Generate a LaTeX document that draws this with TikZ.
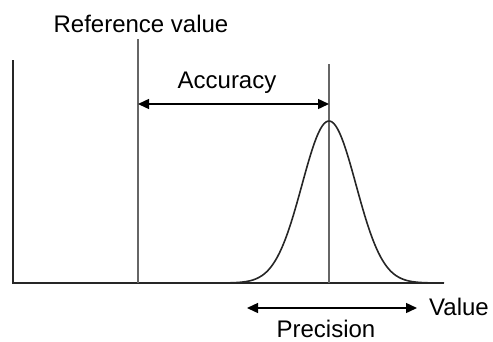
\documentclass[tikz,border=0pt]{standalone}
\usepackage{fontspec}
\setmainfont{Liberation Sans}
\usetikzlibrary{positioning, arrows.meta, calc}
\tikzset{
  every node/.style={font=\fontsize{24}{28}\selectfont, inner sep=0pt},
  lbl/.style={anchor=base},
  axisline/.style={line width=2.6pt, black!85},
  mark line/.style={line width=1.3pt, black!60},
  arr/.style={{Triangle[length=11pt,width=10pt]}-{Triangle[length=11pt,width=10pt]}, line width=1.4pt},
  curve/.style={line width=1.6pt, black!85},
}

\begin{document}
\begin{tikzpicture}[x=1pt, y=-1pt]
  \useasboundingbox (0,0) rectangle (493,341);
  % --- axes ---
  \coordinate (top) at (13,60);
  \coordinate (orig) at (13,283);
  \coordinate (xend) at (438,283);
  \draw[axisline] (top) -- (orig) -- (xend);
  % --- reference value and measured mean ---
  \coordinate (refTop) at (138,39);
  \coordinate (refBot) at (138,283);
  \coordinate (meanTop) at (329,64);
  \coordinate (meanBot) at (329,283);
  \draw[mark line] (refTop) -- (refBot);
  \draw[mark line] (meanTop) -- (meanBot);
  \node[lbl] (refLbl) at (141,32) {Reference value};
  % the spread of measured values
  \draw[curve] plot[domain=-115:115, samples=120]
    ({329+\x}, {283-162*exp(-0.5*(\x/27)^2)});
  % --- accuracy: reference to mean ---
  \coordinate (accL) at (138,104);
  \coordinate (accR) at (329,104);
  \draw[arr] (accL) -- (accR);
  \node[lbl] (accLbl) at (227,88) {Accuracy};
  % --- precision: width of the curve ---
  \coordinate (preL) at (247,308);
  \coordinate (preR) at (417,308);
  \draw[arr] (preL) -- (preR);
  \node[lbl] (preLbl) at (326,337) {Precision};
  \node[lbl, anchor=base west] (valLbl) at (429,315) {Value};
\end{tikzpicture}
\end{document}
